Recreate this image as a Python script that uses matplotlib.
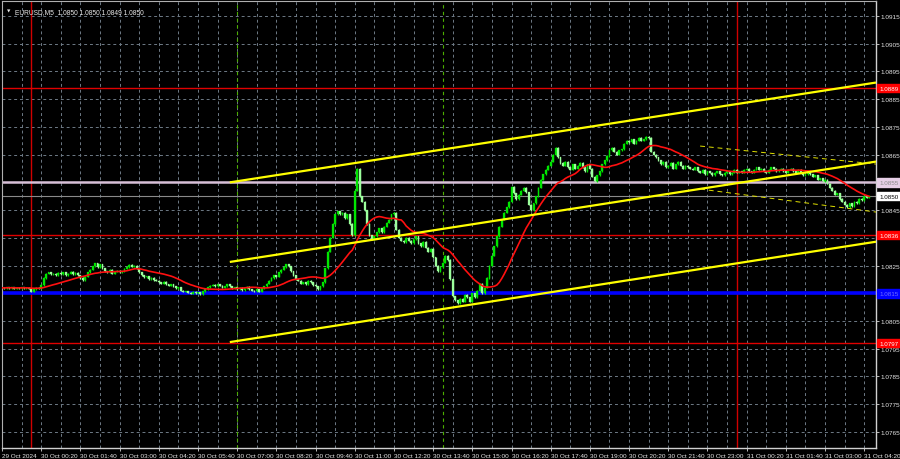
import numpy as np
import pandas as pd
import matplotlib
matplotlib.use("Agg")
import matplotlib.pyplot as plt
import matplotlib.transforms as mtransforms

plt.rcParams["font.family"] = ["Liberation Sans", "DejaVu Sans"]

# ---------------- data ----------------
symbol_title = "EURUSD,M5  1.0850 1.0850 1.0849 1.0850"
start_time = "2024-10-29 23:00"
base_price = 1.08
# closes of 5-minute bars, in pips above 1.0800
close_pips = [
    17.0, 16.8, 17.2, 16.9, 17.1, 16.7, 17.0, 16.8, 17.2, 16.9, 17.0, 16.6,
    15.5, 16.5, 17.0, 16.8, 18.0,
    20.5, 22.0, 22.5, 21.8,
    22.0, 21.5, 22.3, 21.8, 22.5, 21.6, 22.0, 22.8, 21.9, 22.4, 21.5,
    20.5, 19.8, 21.0, 22.5,
    23.5, 24.8, 25.8, 24.5, 25.5, 24.0,
    23.0, 22.5, 23.5, 22.0, 22.8, 23.2, 22.6,
    23.0, 23.8, 24.5, 25.2, 24.6, 25.0, 24.0,
    22.5, 21.5, 20.8, 21.2, 20.0, 20.6, 19.8,
    19.5, 19.0, 18.5, 19.2, 18.3, 17.8, 18.2, 17.5, 16.8, 17.2,
    16.0, 15.5, 15.8, 15.2, 14.8, 15.5, 15.0, 15.3, 14.6, 15.8,
    16.5, 17.2, 17.8, 18.0, 17.5, 18.3, 17.8, 17.0, 17.5, 18.2,
    17.5, 16.8, 17.2, 16.5, 17.0, 16.2, 16.8, 17.3, 16.5, 16.0, 15.8, 16.5, 15.5,
    16.8, 17.5, 18.5, 19.5, 20.5, 21.5, 21.0, 22.5, 23.5, 24.5, 25.5,
    24.8, 23.0, 21.5, 20.0, 19.5, 18.5, 19.0, 18.2, 19.5,
    19.0, 18.0, 17.5, 16.5, 17.5, 19.0,
    24.0, 30.0, 35.0, 40.0, 43.5, 44.5,
    43.5, 44.0, 42.0, 43.5, 40.0, 36.0,
    52.0, 60.0, 50.0,
    48.0, 45.0, 40.0, 36.0, 34.5, 35.5,
    37.0, 38.5, 37.0, 39.0, 40.5, 41.5, 43.5, 44.0,
    38.0, 35.0, 34.0, 33.5, 35.0, 34.0, 33.0,
    34.5, 35.5, 33.0, 32.0, 33.5, 31.5, 30.0, 31.0,
    28.0, 25.0, 23.0, 24.5, 26.0,
    28.5, 27.0, 20.0,
    14.0, 12.5, 11.5, 13.0, 12.0, 14.5, 13.5, 12.0, 15.0, 13.5, 16.0, 18.5,
    15.0, 17.0, 20.5, 25.0, 28.5,
    32.0, 35.5, 39.0, 41.5, 44.0, 46.0, 48.0,
    53.5, 51.0, 49.0, 50.5, 52.0, 53.0, 51.5,
    47.0, 45.0, 47.5, 50.0,
    53.0, 56.0, 58.0, 59.5, 61.0, 62.5,
    65.0, 67.5, 64.0, 62.0,
    61.0, 62.5, 60.5, 59.5, 61.5, 60.0, 61.0, 62.0, 60.5, 59.0, 61.5, 60.0,
    57.0, 55.5, 57.5, 59.0, 61.5, 63.0,
    64.5, 66.5, 67.5, 66.0, 65.0, 66.5, 67.0,
    69.0, 70.0, 69.5, 70.5, 69.0, 70.0, 71.0, 70.0, 70.5, 71.5,
    71.0, 66.0, 65.0,
    64.0, 63.0, 61.5, 62.5, 60.5, 61.0, 62.0, 60.0, 61.5, 62.5, 61.0, 60.0, 61.0, 60.5,
    60.0, 59.5, 60.5, 59.0, 58.5, 59.5, 58.0, 59.0, 58.5, 57.5,
    58.5, 59.0, 58.0, 57.5, 58.5, 59.0, 58.0, 58.5, 59.5, 58.5,
    59.0, 58.5, 59.5, 60.0, 59.0, 58.5, 59.5, 60.5, 59.5, 60.0,
    59.0, 58.5, 59.5, 60.5, 60.0, 59.0, 59.5, 60.0, 59.0, 58.5,
    59.5, 60.0, 59.0, 58.5, 59.5, 58.5, 57.5, 58.0, 59.0, 58.0, 57.0, 57.5, 56.0, 56.5, 55.5,
    56.0, 54.5, 53.0, 52.0, 50.5, 51.0, 49.0, 48.0, 47.0, 46.0, 47.5,
    46.5, 48.0, 47.5, 49.0, 48.5, 50.0, 49.5, 50.0,
]
first_open_pips = 16.8
ma_period = 20

# horizontal levels
level_prices = [1.0889, 1.0836, 1.0797, 1.0815, 1.0855]
level_line_colors = ["#e00000", "#e00000", "#e00000", "#0000ff", "#d8c0d8"]
level_widths = [1.0, 1.0, 1.0, 2.6, 1.8]
level_box_colors = ["#ff0000", "#ff0000", "#ff0000", "#0000ff", "#e6cfe6"]
level_text_colors = ["white", "white", "white", "#7070ff", "#8a8a8a"]
bid_price = 1.0850

# regression channel: (bar index, pips) endpoints
channel_x = [93, 356.8]
channel_upper = [55.0, 91.0]
channel_middle = [26.3, 62.5]
channel_lower = [-2.6, 33.6]
# small dashed channel
small_x = [285, 356.8]
small_upper = [68.1, 61.6]
small_lower = [52.6, 44.3]

day_separators = [12, 300]       # bar indices of 00:00
session_lines = [96, 180]        # 07:00 and 14:00

price_ticks = [1.0915, 1.0905, 1.0895, 1.0885, 1.0875, 1.0865, 1.0855, 1.0845,
               1.0835, 1.0825, 1.0815, 1.0805, 1.0795, 1.0785, 1.0775, 1.0765]
hidden_ticks = [1.0855, 1.0835, 1.0815]

# ---------------- derived ----------------
closes = base_price + np.array(close_pips) / 10000.0
n = len(closes)
opens = np.r_[base_price + first_open_pips / 10000.0, closes[:-1]]
idx = np.arange(n)
times = pd.date_range(start_time, periods=n, freq="5min")
ma = pd.Series(closes).rolling(ma_period, min_periods=1).mean().values

# ---------------- figure ----------------
W, H = 900, 460
fig = plt.figure(figsize=(W / 100, H / 100), dpi=100, facecolor="black")
ax = fig.add_axes([2 / W, 11 / H, 874 / W, 447 / H], facecolor="black")

ax.set_xlim(0.0, 356.8)
ax.set_ylim(1.075921, 1.092041)

# grid
grid_kw = dict(color="#6e7a86", lw=0.7, ls=(0, (3, 3)), zorder=0)
for p in price_ticks:
    ax.axhline(p, **grid_kw)
for gx in range(8, n, 8):
    ax.axvline(gx, **grid_kw)
for gx in session_lines:
    ax.axvline(gx, color="#4caf00", lw=0.8, ls=(0, (3, 3)), zorder=0.5)
for gx in day_separators:
    ax.axvline(gx, color="#d00000", lw=1.0, zorder=0.6)

# horizontal levels
for p, c, w in zip(level_prices, level_line_colors, level_widths):
    ax.axhline(p, color=c, lw=w, zorder=1)
ax.axhline(bid_price, color="#8a8a8a", lw=0.8, zorder=1)

# candles
bull = closes >= opens
lo = np.minimum(opens, closes)
hi = np.maximum(opens, closes)
cols = np.where(bull, "#00e600", "#9cff9c")
ax.vlines(idx, lo - 0.00002, hi + 0.00002, colors=cols, lw=0.9, zorder=2)
ax.bar(idx, hi - lo, bottom=lo, width=0.75, color=cols, edgecolor=cols, lw=0.2, zorder=2.1)

# moving average
ax.plot(idx, ma, color="#ff1010", lw=1.2, zorder=3)

# channels
for ys in (channel_upper, channel_middle, channel_lower):
    ax.plot(channel_x, base_price + np.array(ys) / 10000.0, color="#ffff00", lw=1.6, zorder=4,
            solid_capstyle="butt")
for ys in (small_upper, small_lower):
    ax.plot(small_x, base_price + np.array(ys) / 10000.0, color="#e0e000", lw=0.7,
            ls=(0, (5, 4)), zorder=4)

# axes styling
for s in ["left", "top"]:
    ax.spines[s].set_color("#b0b0b0")
    ax.spines[s].set_linewidth(0.8)
for s in ["right", "bottom"]:
    ax.spines[s].set_color("#d0d0d0")
    ax.spines[s].set_linewidth(1.0)

ax.yaxis.tick_right()
ax.set_yticks(price_ticks)
ax.set_yticklabels(["" if any(abs(p - h) < 1e-9 for h in hidden_ticks) else f"{p:.4f}"
                    for p in price_ticks])
ax.tick_params(axis="y", colors="#d8d8d8", labelsize=4.6, length=2.2, width=0.6, pad=0.9,
               labelcolor="#e6e6e6")

xt = [0] + list(range(16, n, 16))
xl = []
for i in xt:
    t = times[i]
    xl.append(f"{t.day} {t.strftime('%b')} {t.year}" if i == 0 else f"{t.day} {t.strftime('%b %H:%M')}")
ax.set_xticks(xt)
ax.set_xticklabels(xl)
ax.tick_params(axis="x", colors="#d8d8d8", labelsize=4.6, length=2, width=0.6, pad=1.5,
               labelcolor="#e6e6e6")
for lab in ax.get_xticklabels():
    lab.set_horizontalalignment("left")

# right-hand price boxes
trans = mtransforms.blended_transform_factory(ax.transAxes, ax.transData)
box_prices = level_prices + [bid_price]
box_face = level_box_colors + ["white"]
box_text = level_text_colors + ["black"]
for p, fc, tc in zip(box_prices, box_face, box_text):
    ax.text(1.0035, p, f"{p:.4f}", transform=trans, ha="left", va="center",
            fontsize=4.5, color=tc, zorder=10, clip_on=False,
            bbox=dict(boxstyle="square,pad=0.28", facecolor=fc, edgecolor=fc))

# title
ax.text(0.0055, 0.984, "\u25BC", transform=ax.transAxes, ha="left", va="top",
        fontsize=3.2, color="#e8e8e8", zorder=10, family="DejaVu Sans")
ax.text(0.015, 0.985, symbol_title, transform=ax.transAxes, ha="left", va="top",
        fontsize=4.8, color="#e8e8e8", zorder=10)

fig.savefig("out.png", dpi=100, facecolor="black")
